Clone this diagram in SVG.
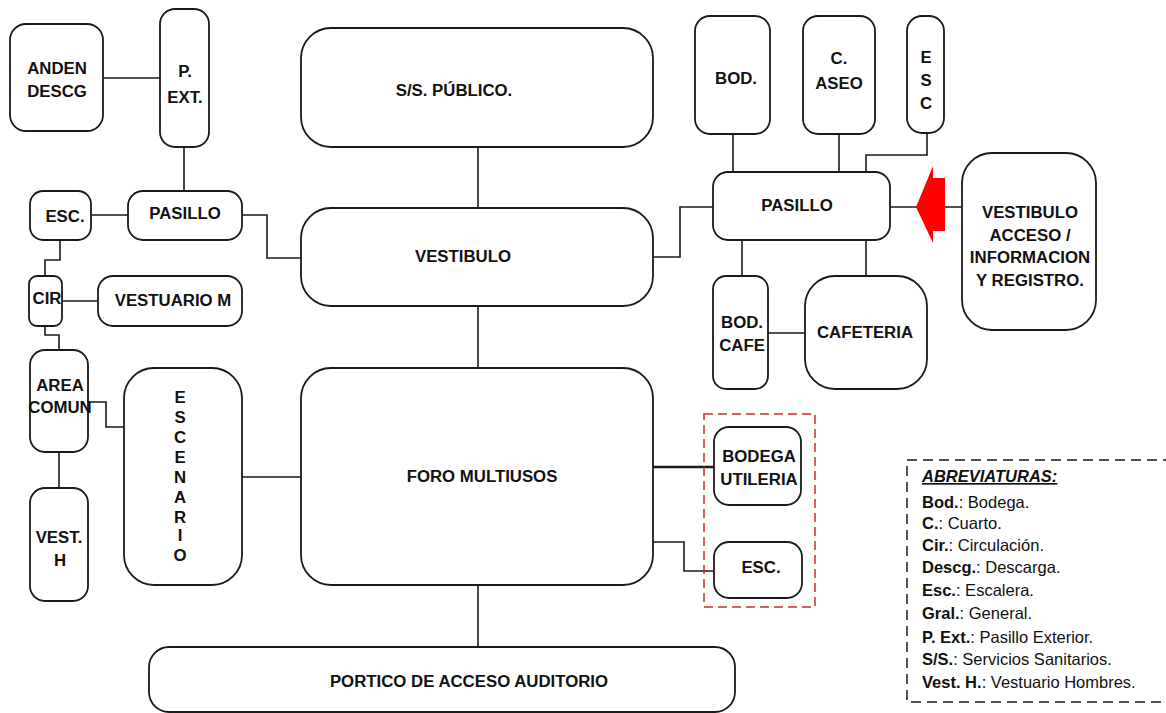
<svg xmlns="http://www.w3.org/2000/svg" width="1166" height="713" viewBox="0 0 1166 713">
<style>
.n{fill:#fff;stroke:#1a1a1a;stroke-width:1.8}
.t{font-family:"Liberation Sans",Arial,sans-serif;font-weight:bold;font-size:16.8px;fill:#111;text-anchor:middle}
.c{fill:none;stroke:#1a1a1a;stroke-width:1.6}
.lg{font-family:"Liberation Sans",Arial,sans-serif;font-size:16.5px;fill:#111}
.lg tspan.b{font-weight:bold}
</style>
<rect width="1166" height="713" fill="#fff"/>
<g id="connectors">
<path class="c" d="M103 78H160"/>
<path class="c" d="M184 147V191"/>
<path class="c" d="M91 215H128"/>
<path class="c" d="M242 215H267V258H301"/>
<path class="c" d="M478 147V208"/>
<path class="c" d="M653 257H680V207H713"/>
<path class="c" d="M733 134V172"/>
<path class="c" d="M839 134V172"/>
<path class="c" d="M927 133V155H866V172"/>
<path class="c" d="M890 207H962"/>
<path class="c" d="M742 240V276"/>
<path class="c" d="M866 240V276"/>
<path class="c" d="M768 333H805"/>
<path class="c" d="M60 240V260H45V276"/>
<path class="c" d="M62 301H98"/>
<path class="c" d="M45 326V335H59V350"/>
<path class="c" d="M88 402H106V427H124"/>
<path class="c" d="M59 452V488"/>
<path class="c" d="M242 477H301"/>
<path class="c" d="M478 306V368"/>
<path class="c" d="M478 585V647"/>
<path class="c" d="M653 467H714" style="stroke-width:2.6"/>
<path class="c" d="M653 542H684V571H714"/>
</g>
<g id="arrow">
<polygon points="916,207 933,166 933,178 945,178 945,231 933,231 933,243" fill="#ff0000"/>
</g>
<g id="group-red">
<rect x="704" y="414" width="111" height="193" fill="none" stroke="#d42a2a" stroke-width="1.5" stroke-dasharray="9,5"/>
</g>
<g id="anden"><rect class="n" x="10" y="24" width="93" height="107" rx="16"/><text class="t" x="57" y="74">ANDEN</text><text class="t" x="57" y="97">DESCG</text></g>
<g id="pext"><rect class="n" x="160" y="9" width="49" height="138" rx="15"/><text class="t" x="185" y="77">P.</text><text class="t" x="185" y="103">EXT.</text></g>
<g id="pasillo-l"><rect class="n" x="128" y="191" width="114" height="49" rx="15"/><text class="t" x="185" y="219">PASILLO</text></g>
<g id="esc-l"><rect class="n" x="30" y="191" width="61" height="49" rx="13"/><text class="t" x="65" y="222">ESC.</text></g>
<g id="cir"><rect class="n" x="29" y="276" width="33" height="50" rx="8"/><text class="t" x="47" y="304">CIR</text></g>
<g id="vestuario-m"><rect class="n" x="98" y="276" width="144" height="50" rx="15"/><text class="t" x="173" y="306">VESTUARIO M</text></g>
<g id="area-comun"><rect class="n" x="30" y="350" width="58" height="102" rx="15"/><text class="t" x="60" y="391">AREA</text><text class="t" x="60" y="413">COMUN</text></g>
<g id="vest-h"><rect class="n" x="30" y="488" width="58" height="113" rx="15"/><text class="t" x="59" y="543">VEST.</text><text class="t" x="60" y="566">H</text></g>
<g id="escenario"><rect class="n" x="124" y="368" width="118" height="217" rx="30"/>
<text class="t" x="180" y="403">E</text><text class="t" x="180" y="423">S</text><text class="t" x="180" y="443">C</text><text class="t" x="180" y="463">E</text><text class="t" x="180" y="483">N</text><text class="t" x="180" y="503">A</text><text class="t" x="180" y="523">R</text><text class="t" x="180" y="541">I</text><text class="t" x="180" y="561">O</text></g>
<g id="ss-publico"><rect class="n" x="301" y="28" width="352" height="119" rx="30"/><text class="t" x="454" y="96">S/S. PÚBLICO.</text></g>
<g id="vestibulo"><rect class="n" x="301" y="208" width="352" height="98" rx="30"/><text class="t" x="463" y="262">VESTIBULO</text></g>
<g id="foro"><rect class="n" x="301" y="368" width="352" height="217" rx="30"/><text class="t" x="482" y="482">FORO MULTIUSOS</text></g>
<g id="portico"><rect class="n" x="149" y="647" width="586" height="65" rx="20"/><text class="t" x="469" y="687">PORTICO DE ACCESO AUDITORIO</text></g>
<g id="bod"><rect class="n" x="695" y="16" width="75" height="118" rx="15"/><text class="t" x="736" y="84">BOD.</text></g>
<g id="c-aseo"><rect class="n" x="803" y="16" width="72" height="118" rx="15"/><text class="t" x="839" y="64">C.</text><text class="t" x="839" y="89">ASEO</text></g>
<g id="esc-r"><rect class="n" x="907" y="16" width="37" height="117" rx="15"/><text class="t" x="926" y="63">E</text><text class="t" x="926" y="86">S</text><text class="t" x="926" y="109">C</text></g>
<g id="pasillo-r"><rect class="n" x="713" y="172" width="177" height="68" rx="15"/><text class="t" x="797" y="211">PASILLO</text></g>
<g id="vestibulo-acceso"><rect class="n" x="962" y="153" width="134" height="177" rx="30"/>
<text class="t" x="1030" y="218">VESTIBULO</text><text class="t" x="1030" y="241">ACCESO /</text><text class="t" x="1030" y="263">INFORMACION</text><text class="t" x="1030" y="286">Y REGISTRO.</text></g>
<g id="bod-cafe"><rect class="n" x="713" y="276" width="55" height="113" rx="13"/><text class="t" x="742" y="328">BOD.</text><text class="t" x="742" y="351">CAFE</text></g>
<g id="cafeteria"><rect class="n" x="805" y="276" width="122" height="113" rx="30"/><text class="t" x="865" y="338">CAFETERIA</text></g>
<g id="bodega-utileria"><rect class="n" x="714" y="427" width="87" height="78" rx="15"/><text class="t" x="759" y="462">BODEGA</text><text class="t" x="759" y="485">UTILERIA</text></g>
<g id="esc-foro"><rect class="n" x="714" y="542" width="88" height="56" rx="15"/><text class="t" x="761" y="573">ESC.</text></g>
<g id="legend">
<rect x="907" y="460" width="270" height="242" fill="none" stroke="#1a1a1a" stroke-width="1.5" stroke-dasharray="10,6"/>
<text class="lg" x="922" y="482" style="font-weight:bold;font-style:italic;text-decoration:underline">ABREVIATURAS:</text>
<text class="lg" x="922" y="508"><tspan class="b">Bod.</tspan>: Bodega.</text>
<text class="lg" x="922" y="529"><tspan class="b">C.</tspan>: Cuarto.</text>
<text class="lg" x="922" y="551"><tspan class="b">Cir.</tspan>: Circulación.</text>
<text class="lg" x="922" y="573"><tspan class="b">Descg.</tspan>: Descarga.</text>
<text class="lg" x="922" y="596"><tspan class="b">Esc.</tspan>: Escalera.</text>
<text class="lg" x="922" y="619"><tspan class="b">Gral.</tspan>: General.</text>
<text class="lg" x="922" y="643"><tspan class="b">P. Ext.</tspan>: Pasillo Exterior.</text>
<text class="lg" x="922" y="665"><tspan class="b">S/S.</tspan>: Servicios Sanitarios.</text>
<text class="lg" x="922" y="688"><tspan class="b">Vest. H.</tspan>: Vestuario Hombres.</text>
</g>
</svg>
